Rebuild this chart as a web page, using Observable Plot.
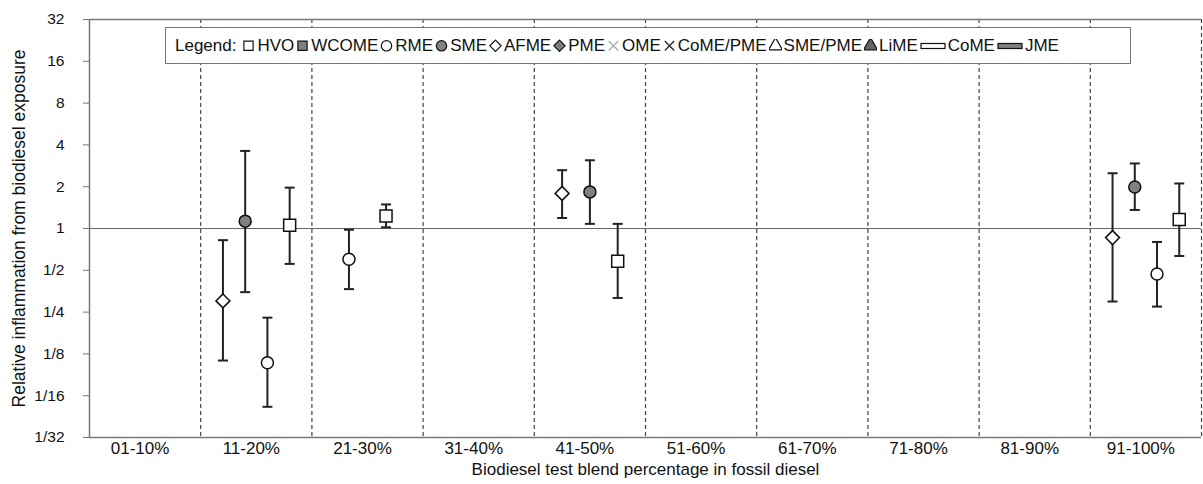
<!DOCTYPE html>
<html><head><meta charset="utf-8">
<script src="https://cdn.jsdelivr.net/npm/d3@7"></script>
<script src="https://cdn.jsdelivr.net/npm/@observablehq/plot@0.6"></script>
<style>
body{margin:0;background:#fff;font-family:"Liberation Sans",Arial,sans-serif;}
#wrap{position:relative;width:1203px;height:484px;overflow:hidden;}
#legend{position:absolute;left:165px;top:27px;width:966px;height:37px;border:1px solid #777;background:#fff;box-sizing:border-box;display:flex;align-items:center;padding-left:9px;font-size:17px;color:#111;white-space:nowrap;}
#legend .it{display:flex;align-items:center;margin-right:2px;}
#legend svg{margin-right:2px;}
</style></head><body><div id="wrap"><div id="legend"></div></div>
<script>
// ---- data ----
const categories = ["01-10%","11-20%","21-30%","31-40%","41-50%","51-60%","61-70%","71-80%","81-90%","91-100%"];
const seriesNames = ["HVO","WCOME","RME","SME","AFME","PME","OME","CoME/PME","SME/PME","LiME","CoME","JME"];
const pointCategory = ["11-20%","11-20%","11-20%","11-20%","21-30%","21-30%","41-50%","41-50%","41-50%","91-100%","91-100%","91-100%","91-100%"];
const pointSeries   = ["AFME","SME","RME","HVO","RME","HVO","AFME","SME","HVO","AFME","SME","RME","HVO"];
const pointValue    = [0.301,1.13,0.108,1.056, 0.60,1.23, 1.79,1.835,0.58, 0.86,1.99,0.47,1.16];
const pointUpper    = [0.824,3.62,0.228,1.97, 0.98,1.49, 2.63,3.1,1.08, 2.5,2.94,0.80,2.11];
const pointLower    = [0.112,0.348,0.052,0.556, 0.366,1.02, 1.19,1.08,0.316, 0.298,1.36,0.274,0.634];
const yTickValues = [1/32,1/16,1/8,1/4,1/2,1,2,4,8,16,32];
const yTickLabels = ["1/32","1/16","1/8","1/4","1/2","1","2","4","8","16","32"];
const xTitle = "Biodiesel test blend percentage in fossil diesel";
const yTitle = "Relative inflammation from biodiesel exposure";

// ---- styles per series ----
const GRAY = "#808080";
const seriesStyle = {
  "HVO":{symbol:"square",fill:"#fff",r:6.77},
  "WCOME":{symbol:"square",fill:GRAY,r:6.77},
  "RME":{symbol:"circle",fill:"#fff",r:6},
  "SME":{symbol:"circle",fill:GRAY,r:6},
  "AFME":{symbol:"diamond2",fill:"#fff",r:6.3},
  "PME":{symbol:"diamond2",fill:GRAY,r:6.3},
  "OME":{symbol:"times",fill:"none",stroke:"#aaa",r:6},
  "CoME/PME":{symbol:"times",fill:"none",stroke:"#222",r:6},
  "SME/PME":{symbol:"triangle",fill:"#fff",r:6.5},
  "LiME":{symbol:"triangle",fill:"#666",r:6.5},
  "CoME":{symbol:"rect",fill:"#fff"},
  "JME":{symbol:"rect",fill:GRAY}
};

// ---- table ----
const points = pointValue.map((v,k)=>{
  const cat = pointCategory[k];
  const same = pointCategory.map((c,j)=>j).filter(j=>pointCategory[j]===cat);
  const i = same.indexOf(k), n = same.length;
  return {series:pointSeries[k], cat, x: categories.indexOf(cat) + (i+1)/(n+1), value:v, hi:pointUpper[k], lo:pointLower[k]};
});

const capSymbol = {draw(ctx, size){ const w = 5; ctx.moveTo(-w,0); ctx.lineTo(w,0); }};
const caps = points.flatMap(p=>[{x:p.x,y:p.hi},{x:p.x,y:p.lo}]);

const dotMarks = seriesNames.filter(s=>points.some(p=>p.series===s)).map(s=>{
  const st = seriesStyle[s];
  return Plot.dot(points.filter(p=>p.series===s), {x:"x", y:"value", symbol:()=>st.symbol, r:st.r, fill:st.fill, stroke:"#111", strokeWidth:1.5});
});

const chart = Plot.plot({
  width:1203, height:484,
  marginLeft:89, marginRight:2, marginTop:19, marginBottom:47,
  style:{fontFamily:'"Liberation Sans", Arial, sans-serif', fontSize:"16px", color:"#111", background:"#fff", overflow:"visible"},
  x:{domain:[0,10]},
  y:{type:"log", base:2, domain:[1/32,32]},
  marks:[
    Plot.ruleX(d3.range(1,11), {stroke:"#444", strokeDasharray:"4,3", strokeWidth:1.2}),
    Plot.ruleY([32,1/32], {stroke:"#777", strokeWidth:1.5}),
    Plot.ruleX([0], {stroke:"#777", strokeWidth:1.5}),
    Plot.ruleY([1], {stroke:"#666", strokeWidth:1.2}),
    Plot.axisY({ticks:yTickValues, tickFormat:d=>yTickLabels[yTickValues.indexOf(d)], tickSize:6, tickPadding:19, stroke:"#777", fill:"#111", fontSize:15.5, label:null}),
    Plot.axisX({ticks:categories.map((c,i)=>i+0.5), tickFormat:(d)=>categories[Math.round(d-0.5)], tickSize:0, tickPadding:4, dx:-5, fill:"#111", fontSize:17, label:null}),
    Plot.text([xTitle], {frameAnchor:"bottom", dy:37, fontSize:17, fill:"#111"}),
    Plot.text([yTitle], {frameAnchor:"left", dx:-70, rotate:-90, textAnchor:"middle", fontSize:17.5, fill:"#111"}),
    Plot.ruleX(points, {x:"x", y1:"lo", y2:"hi", stroke:"#222", strokeWidth:2}),
    Plot.dot(caps, {x:"x", y:"y", symbol:()=>capSymbol, r:4, stroke:"#222", strokeWidth:2}),
    ...dotMarks
  ]
});
document.getElementById("wrap").insertBefore(chart, document.getElementById("legend"));
chart.style.position = "absolute"; chart.style.left = "0"; chart.style.top = "0";

// ---- legend ----
const legend = d3.select("#legend");
legend.append("span").text("Legend:").style("margin-right","6px");
const symMap = {square:d3.symbolSquare, circle:d3.symbolCircle, diamond2:d3.symbolDiamond2, times:d3.symbolTimes, triangle:d3.symbolTriangle};
seriesNames.forEach(s=>{
  const st = seriesStyle[s];
  const it = legend.append("span").attr("class","it");
  if (st.symbol === "rect") {
    const svg = it.append("svg").attr("width",26).attr("height",12);
    svg.append("rect").attr("x",1).attr("y",3.5).attr("width",24).attr("height",5).attr("fill",st.fill).attr("stroke","#111").attr("stroke-width",1.2);
  } else {
    const svg = it.append("svg").attr("width",13).attr("height",13);
    const size = st.symbol==="diamond2" ? 80 : st.symbol==="times" ? 60 : 85;
    svg.append("path").attr("transform","translate(6.5,6.8)").attr("d", d3.symbol(symMap[st.symbol], size)())
      .attr("fill", st.fill).attr("stroke", st.stroke || "#111").attr("stroke-width", st.symbol==="times"?1.3:1.2);
  }
  it.append("span").text(s);
});
</script>
</body></html>
